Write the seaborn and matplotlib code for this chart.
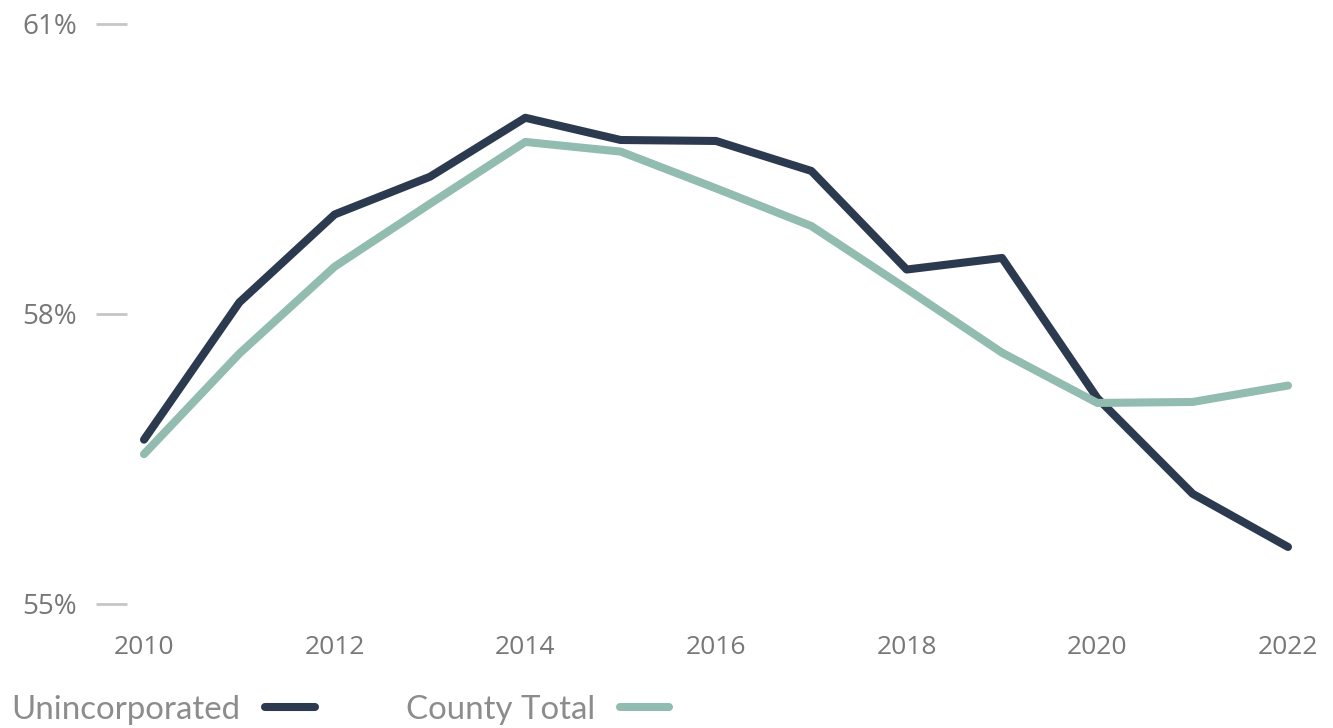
import pandas as pd
import matplotlib.pyplot as plt
import seaborn as sns
from matplotlib.lines import Line2D

years = list(range(2010, 2023))
unincorporated = [56.70, 58.12, 59.03, 59.42, 60.03, 59.80, 59.79, 59.48, 58.46, 58.58, 57.13, 56.14, 55.59]
county_total = [56.55, 57.59, 58.49, 59.14, 59.78, 59.68, 59.30, 58.91, 58.26, 57.60, 57.08, 57.09, 57.26]
series_names = ["Unincorporated", "County Total"]
colors = ["#2b3a4f", "#92bcb0"]
ytick_vals = [55, 58, 61]
xtick_vals = [2010, 2012, 2014, 2016, 2018, 2020, 2022]

df = pd.DataFrame({
    "year": years * 2,
    "value": unincorporated + county_total,
    "series": [series_names[0]] * len(years) + [series_names[1]] * len(years),
})

sns.set_theme(style="white")
plt.rcParams["font.family"] = ["Open Sans", "DejaVu Sans"]

fig = plt.figure(figsize=(13.33, 7.28), dpi=100)
ax = fig.add_axes([127 / 1333, 1 - 604 / 728, (1310 - 127) / 1333, 580 / 728])

sns.lineplot(data=df, x="year", y="value", hue="series", hue_order=series_names,
             palette=colors, linewidth=5.8, ax=ax, legend=False)
for ln in ax.get_lines():
    ln.set_solid_capstyle("round")
    ln.set_clip_on(False)

ax.set_xlim(2010 - 17 / 95.33, 2022 + 22 / 95.33)
ax.set_ylim(55, 61)
ax.set_xticks(xtick_vals)
ax.set_yticks(ytick_vals)
ax.set_yticklabels([f"{v}%" for v in ytick_vals])
ax.set_xlabel("")
ax.set_ylabel("")
sns.despine(ax=ax, left=True, bottom=True)

ax.tick_params(axis="y", which="major", left=True, length=22, width=2,
               color="#c8c6c4", pad=14, labelsize=20, labelcolor="#777777")
ax.tick_params(axis="x", which="major", bottom=False, pad=16,
               labelsize=19, labelcolor="#777777")

# legend: text first, line after
handles = [Line2D([0], [0], color=c, linewidth=5.8, solid_capstyle="round") for c in colors]
leg = fig.legend(handles, series_names, loc="lower left", bbox_to_anchor=(-0.0015, -0.014),
                 ncol=2, frameon=False, markerfirst=False, handlelength=1.5,
                 handletextpad=0.75, columnspacing=2.75, borderaxespad=0.0,
                 prop={"family": ["Lato", "DejaVu Sans"], "size": 23.8})
for t in leg.get_texts():
    t.set_color("#8c8c8c")

fig.savefig("out.png", dpi=100)
